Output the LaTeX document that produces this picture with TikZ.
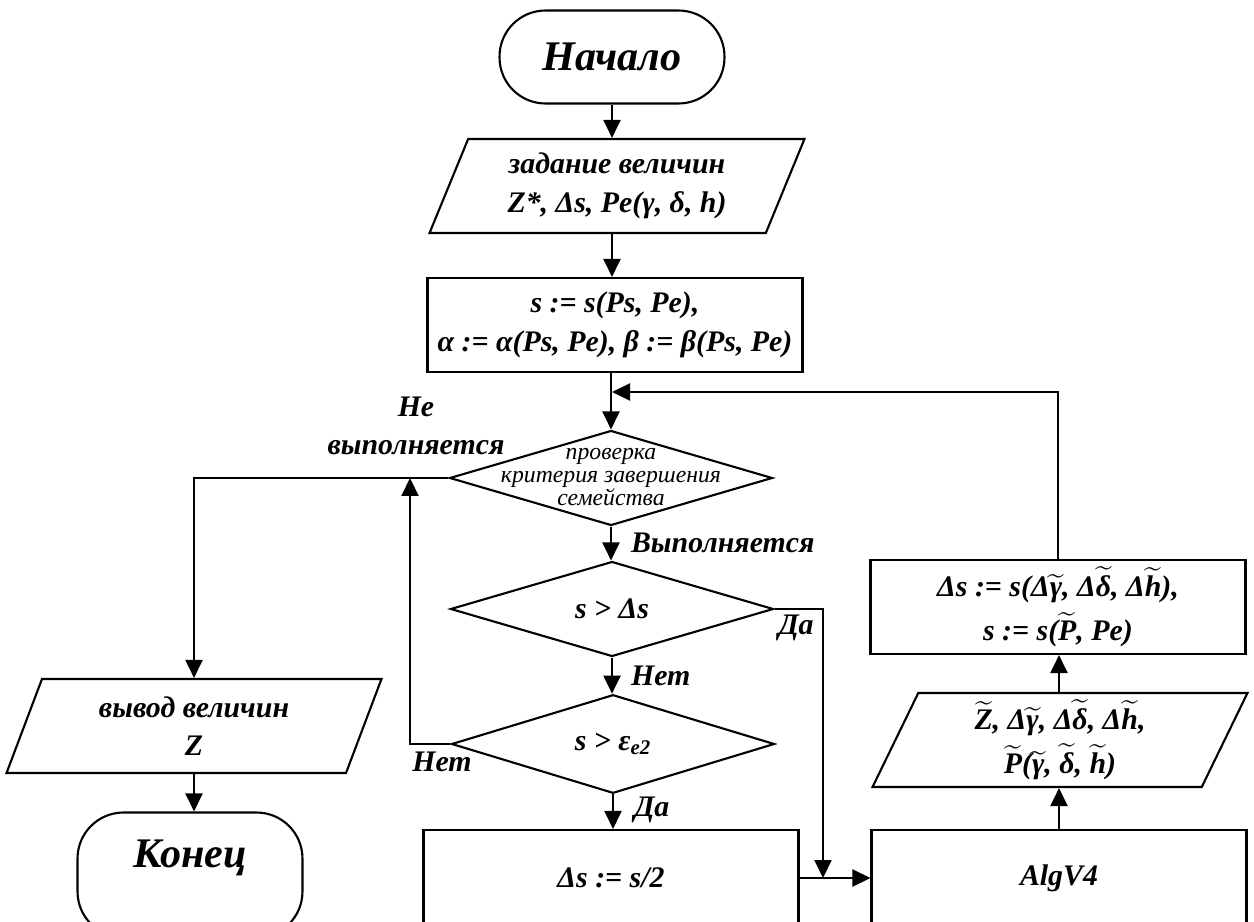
\documentclass[tikz,border=0pt]{standalone}
\usepackage{amsmath}
\usepackage{fontspec}
\setmainfont{Liberation Serif}
\usetikzlibrary{shapes.geometric,arrows.meta}

\newcommand{\wt}[1]{\ensuremath{\widetilde{\mbox{#1}}}}

\begin{document}
\begin{tikzpicture}[x=0.02cm,y=-0.02cm,line width=1.2pt,
    font=\bfseries\itshape\fontsize{17}{22}\selectfont,
    arr/.style={-{Triangle[length=0.36cm,width=0.34cm]}},
    term/.style={draw,rectangle,rounded corners=0.92cm,minimum width=4.5cm,
      minimum height=1.86cm,font=\bfseries\itshape\fontsize{24}{28}\selectfont},
    proc/.style={draw,rectangle,minimum width=7.5cm,minimum height=1.88cm,align=center},
    io/.style={draw,trapezium,trapezium left angle=63.5,trapezium right angle=116.5,
      trapezium stretches body,minimum width=7.5cm,minimum height=1.88cm,align=center},
    cond/.style={draw,diamond,minimum width=6.46cm,minimum height=1.9cm,inner sep=0pt,align=center},
    lbl/.style={inner sep=0pt}]
    \useasboundingbox (0,0) rectangle (1254,922);
    \clip (0,0) rectangle (1254,922);

    % main column
    \node[term] (start) at (612,57) {Начало};
    \node[io] (in) at (617,186) {задание величин\\Z*, Δs, Pe(γ, δ, h)};
    \node[proc] (init) at (615,325) {s := s(Ps, Pe),\\α := α(Ps, Pe), β := β(Ps, Pe)};
    \node[cond] (d1) at (611,478) {};
    \node[lbl,align=center,font=\mdseries\itshape\fontsize{13.5}{13}\selectfont] (d1txt) at (611,477)
      {проверка\\критерия завершения\\семейства};
    \node[cond] (d2) at (612,609) {s > Δs};
    \node[cond] (d3) at (613,744) {s > ε\textsubscript{e2}};
    \node[proc,minimum height=1.92cm] (half) at (611,878) {Δs := s/2};

    % left column
    \node[io] (res) at (194,726) {вывод величин\\Z};
    \node[term,minimum height=2.5cm] (end) at (190,875)
      {\raisebox{0.34cm}[\height][\depth]{Конец}};

    % right column
    \node[proc,minimum height=1.92cm] (alg) at (1059,878) {AlgV4};
    \node[io] (out) at (1060,740) {\wt{Z}, Δ\wt{γ}, Δ\wt{δ}, Δ\wt{h},\\[3pt]\wt{P}(\wt{γ}, \wt{δ}, \wt{h})};
    \node[proc] (upd) at (1058,607) {Δs := s(Δ\wt{γ}, Δ\wt{δ}, Δ\wt{h}),\\[3pt]s := s(\wt{P}, Pe)};

    \coordinate (loop) at (612,392);
    \coordinate (back) at (410,478);
    \coordinate (yes) at (823,878);

    % connectors
    \draw[arr] (start.south) -- (start.south |- in.north);
    \draw[arr] (start.south |- in.south) -- (start.south |- init.north);
    \draw[arr] (init.south -| d1.north) -- (d1.north);
    \draw[arr] (d1.south) -- (d1.south |- d2.north);
    \draw[arr] (d2.south) -- (d2.south |- d3.north);
    \draw[arr] (d3.south) -- (d3.south |- half.north);
    \draw[arr] (d2.east) -| (yes);
    \draw[arr] (half.east) -- (alg.west);
    \draw[arr] (d3.west) -| (back);
    \draw[arr] (d1.west) -| (res.north);
    \draw[arr] (res.south) -- (res.south |- end.north);
    \draw[arr] (alg.north) -- (alg.north |- out.south);
    \draw[arr] (alg.north |- out.north) -- (alg.north |- upd.south);
    \draw[arr] (upd.north) |- (loop);

    % branch labels
    \node[lbl,align=center] (notdone) at (416,426) {Не\\выполняется};
    \node[lbl,anchor=west] (done) at (630,543) {Выполняется};
    \node[lbl] (yes2) at (796,628) {Да};
    \node[lbl,anchor=west] (no2) at (630,676) {Нет};
    \node[lbl] (no3) at (442,762) {Нет};
    \node[lbl,anchor=west] (yes3) at (633,810) {Да};
\end{tikzpicture}
\end{document}
